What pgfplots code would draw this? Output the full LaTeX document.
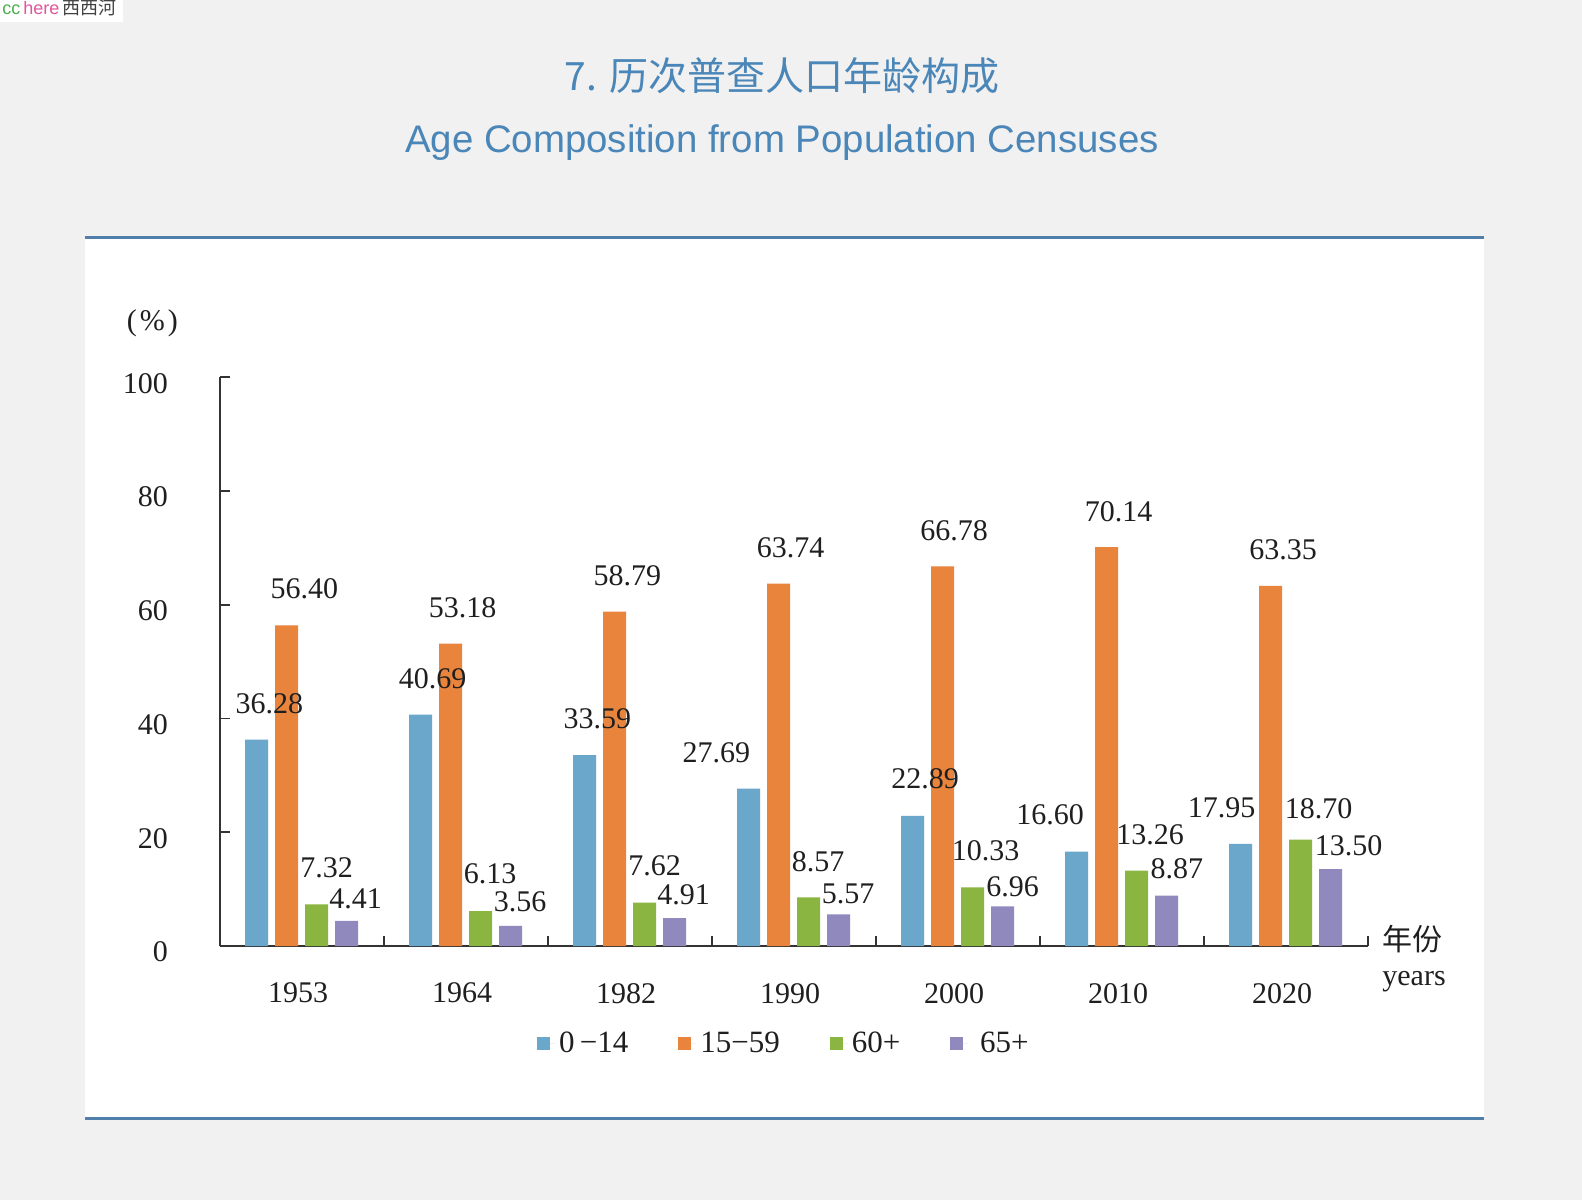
\documentclass[border=0pt]{standalone}
\usepackage{fontspec}
\setmainfont{Liberation Serif}
\newfontfamily\titlesans{Liberation Sans}
\newfontfamily\cjk{Noto Sans CJK SC}
\usepackage{pgfplots}
\pgfplotsset{compat=1.18}
\usepackage{pgfplotstable}
\definecolor{bgray}{HTML}{F1F1F1}
\definecolor{ttlblue}{HTML}{4A86B8}
\definecolor{lineblue}{HTML}{4F7FAA}
\definecolor{cblue}{HTML}{6AA7CB}
\definecolor{corange}{HTML}{E8843C}
\definecolor{cgreen}{HTML}{8AB540}
\definecolor{cpurple}{HTML}{9089BE}
\definecolor{axgray}{HTML}{333333}
\definecolor{wgreen}{HTML}{4CAF50}
\definecolor{wpink}{HTML}{E0579A}
\newcommand{\lblfont}{\fontsize{15}{18}\selectfont}

\pgfplotstableread{
x y dx dy
0.5 36.28 -16.35 18.0
1.5 40.69 -16.65 18.0
2.5 33.59 -16.35 18.0
3.5 27.69 -38.85 18.1
4.5 22.89 -16.45 18.6
5.5 16.60 -35.95 18.2
6.5 17.95 -32.15 17.9
}\tA
\pgfplotstableread{
x y dx dy
0.5 56.40 1.15 18.4
1.5 53.18 -1.65 17.9
2.5 58.79 -1.35 18.2
3.5 63.74 -1.65 17.8
4.5 66.78 -1.95 17.7
5.5 70.14 -1.75 17.8
6.5 63.35 -1.45 17.9
}\tB
\pgfplotstableread{
x y dx dy
0.5 7.32 12.35 18.3
1.5 6.13 12.05 18.6
2.5 7.62 12.35 18.5
3.5 8.57 12.05 17.8
4.5 10.33 13.85 18.4
5.5 13.26 14.05 18.1
6.5 18.70 16.25 15.3
}\tC
\pgfplotstableread{
x y dx dy
0.5 4.41 26.85 11.2
1.5 3.56 27.05 11.8
2.5 4.91 26.85 11.5
3.5 5.57 27.05 10.1
4.5 6.96 27.25 9.7
5.5 8.87 27.45 13.4
6.5 13.50 31.25 11.9
}\tD

\pgfplotsset{
  barlab/.style={
    ybar, bar width=11.5pt, draw=none,
    point meta=y,
    visualization depends on={\thisrow{dx}\as\dx},
    visualization depends on={\thisrow{dy}\as\dy},
    nodes near coords={\pgfmathprintnumber[fixed,fixed zerofill,precision=2]{\pgfplotspointmeta}},
    every node near coord/.append style={font=\lblfont, text=black!88, anchor=center, xshift=\dx, yshift=\dy},
  },
}

\begin{document}
\begin{tikzpicture}
\useasboundingbox (0,0) rectangle (791pt,600pt);
\fill[bgray] (0,0) rectangle (791pt,600pt);
% watermark
\fill[white] (0,589pt) rectangle (61.5pt,600pt);
\node[anchor=base west, inner sep=0, font=\titlesans\fontsize{9}{10}\selectfont] at (1pt,592.5pt) {\textcolor{wgreen}{cc}\,\textcolor{wpink}{here}\,{\cjk\textcolor{black!75}{西西河}}};
% panel
\fill[white] (42.5pt,41pt) rectangle (742pt,481pt);
\draw[lineblue, line width=1.5pt] (42.5pt,481pt) -- (742pt,481pt);
\draw[lineblue, line width=1.5pt] (42.5pt,41pt) -- (742pt,41pt);
% titles
\node[anchor=base, inner sep=0, font=\cjk\fontsize{19.5}{22}\selectfont, text=ttlblue] at (391pt,554.5pt) {7. 历次普查人口年龄构成};
\node[anchor=base, inner sep=0, font=\titlesans\fontsize{19.2}{22}\selectfont, text=ttlblue] at (391pt,523.8pt) {Age Composition from Population Censuses};
% unit labels
\node[font=\lblfont, text=black!88] at (76.2pt,438.5pt) {(\hspace{1.5pt}\%\hspace{1.5pt})};
\node[font=\cjk\fontsize{15}{18}\selectfont, text=black!88] at (706pt,130.5pt) {年份};
\node[font=\lblfont, text=black!88] at (707pt,109.2pt) {years};

\begin{axis}[
  at={(110pt,127pt)}, anchor=south west,
  scale only axis, width=574pt, height=284.3pt,
  xmin=0, xmax=7, ymin=0, ymax=100,
  clip=false,
  axis lines=left,
  axis line style={-, draw=axgray, line width=0.9pt},
  tick style={draw=axgray, line width=0.9pt},
  tick align=inside,
  major tick length=5pt,
  xtick={0,...,7},
  x tick label as interval,
  xticklabels={1953,1964,1982,1990,2000,2010,2020},
  ytick={0,20,...,100},
  /pgf/number format/assume math mode=true,
  tick label style={font=\lblfont, text=black!88},
  xticklabel style={yshift=-15pt, xshift=-2pt},
  yticklabel style={xshift=-22.5pt, yshift=-3pt},
  legend style={at={(0.4920,-0.172)}, anchor=center, draw=none, fill=none,
    legend columns=4, font=\fontsize{15.5}{18}\selectfont, text=black!88,
    /tikz/every even column/.append style={column sep=23pt}},
  legend image code/.code={\fill[#1] (0pt,-3.2pt) rectangle (6.4pt,3.2pt); \path (0pt,0pt) -- (9pt,0pt);},
]
\addplot[barlab, fill=cblue, bar shift=-22.75pt] table[x=x,y=y]{\tA};
\addplot[barlab, fill=corange, bar shift=-7.75pt] table[x=x,y=y]{\tB};
\addplot[barlab, fill=cgreen, bar shift=7.25pt] table[x=x,y=y]{\tC};
\addplot[barlab, fill=cpurple, bar shift=22.25pt] table[x=x,y=y]{\tD};
\legend{0\,−14,15−59,60+,\ 65+}
\end{axis}
\end{tikzpicture}
\end{document}
